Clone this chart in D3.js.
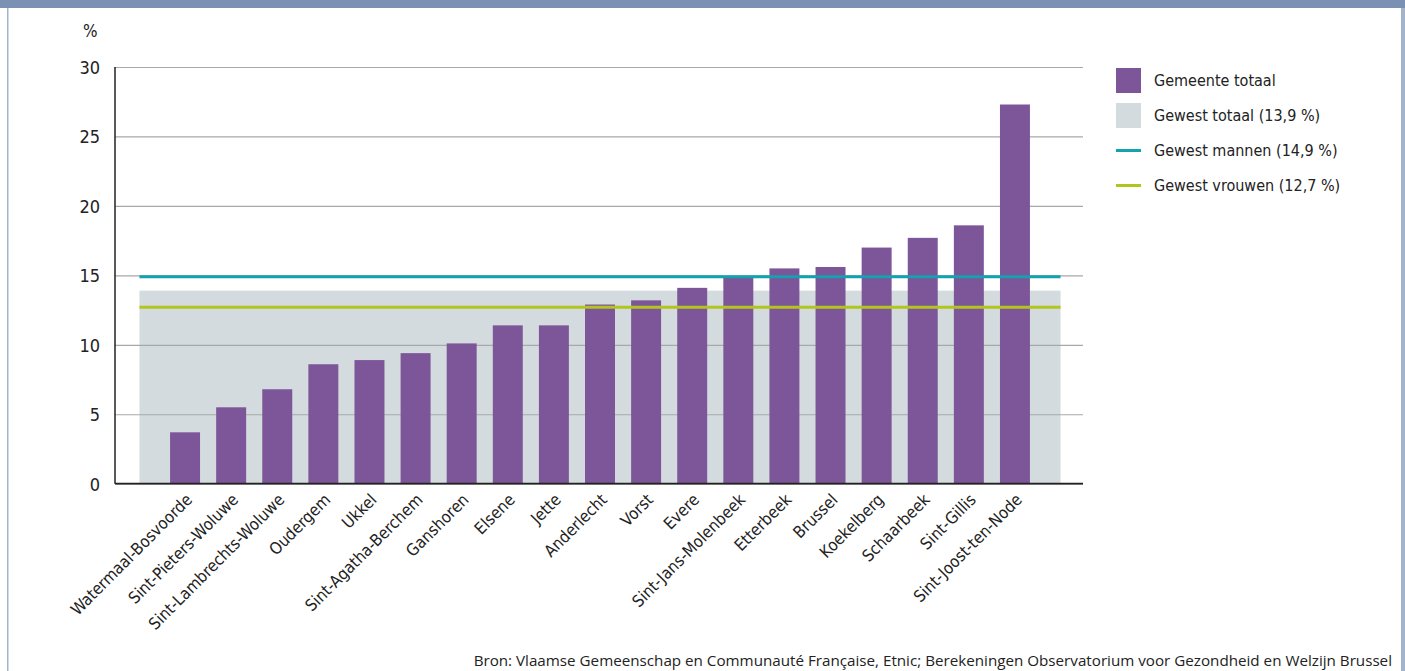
<!DOCTYPE html>
<html>
<head>
<meta charset="utf-8">
<script src="https://cdn.jsdelivr.net/npm/d3@7/dist/d3.min.js"></script>
<style>
  html, body { margin: 0; padding: 0; background: #fff; }
  svg { display: block; }
  .cond { font-family: "Liberation Sans Narrow", "DejaVu Sans Condensed", "Roboto", sans-serif; font-stretch: condensed; fill: #222; }
</style>
</head>
<body>
<svg id="chart" width="1405" height="671"></svg>
<script>
const categories = ["Watermaal-Bosvoorde","Sint-Pieters-Woluwe","Sint-Lambrechts-Woluwe","Oudergem","Ukkel","Sint-Agatha-Berchem","Ganshoren","Elsene","Jette","Anderlecht","Vorst","Evere","Sint-Jans-Molenbeek","Etterbeek","Brussel","Koekelberg","Schaarbeek","Sint-Gillis","Sint-Joost-ten-Node"];
const gemeenteTotaal = [3.7,5.5,6.8,8.6,8.9,9.4,10.1,11.4,11.4,12.9,13.2,14.1,14.9,15.5,15.6,17.0,17.7,18.6,27.3];
const gewestTotaal = 13.9;
const gewestMannen = 14.9;
const gewestVrouwen = 12.7;
const yTicks = [0,5,10,15,20,25,30];
const legendLabels = ["Gemeente totaal","Gewest totaal (13,9 %)","Gewest mannen (14,9 %)","Gewest vrouwen (12,7 %)"];
const sourceText = "Bron: Vlaamse Gemeenschap en Communauté Française, Etnic; Berekeningen Observatorium voor Gezondheid en Welzijn Brussel";

const C = { bar: "#7d5599", region: "#d4dbdf", men: "#12a2b0", women: "#b2c51d", grid: "#a8a8a8", frame: "#7b91b3", side: "#a3b3cb" };

const svg = d3.select("#chart");
const W = 1405, H = 671;

// frame
svg.append("rect").attr("x",0).attr("y",0).attr("width",W).attr("height",8).attr("fill",C.frame);
svg.append("rect").attr("x",7).attr("y",8).attr("width",1.5).attr("height",H-8).attr("fill",C.side);
svg.append("rect").attr("x",1401).attr("y",8).attr("width",4).attr("height",H-8).attr("fill",C.side);

const axisX0 = 115, gridX1 = 1083;
const y = d3.scaleLinear().domain([0,30]).range([483.7, 67]);
const x = d3.scaleBand().domain(categories).range([162, 1038]).paddingInner(0.35).paddingOuter(0.175);
const regL = x.range()[0] - x.step()/2 + 0.5, regR = x.range()[1] + x.step()/2 - 0.5;

// region background
svg.append("rect").attr("x",regL).attr("y",y(gewestTotaal)).attr("width",regR-regL).attr("height",y(0)-y(gewestTotaal)).attr("fill",C.region);

// gridlines
const yAxis = d3.axisLeft(y).tickValues(yTicks).tickSize(-(gridX1-axisX0)).tickFormat(d3.format("d")).tickPadding(15);
const gy = svg.append("g").attr("transform",`translate(${axisX0},0)`).call(yAxis);
gy.select(".domain").remove();
gy.selectAll(".tick line").attr("stroke",C.grid).attr("stroke-width",1.2);
gy.selectAll(".tick text").attr("class","cond").attr("font-size",18).attr("fill","#222").attr("dy","0.35em");

// bars
svg.append("g").selectAll("rect").data(gemeenteTotaal).join("rect")
  .attr("x",(d,i)=>x(categories[i])).attr("width",x.bandwidth())
  .attr("y",d=>y(d)).attr("height",d=>y(0)-y(d)).attr("fill",C.bar);

// reference lines
svg.append("line").attr("x1",regL).attr("x2",regR).attr("y1",y(gewestMannen)).attr("y2",y(gewestMannen)).attr("stroke",C.men).attr("stroke-width",3);
svg.append("line").attr("x1",regL).attr("x2",regR).attr("y1",y(gewestVrouwen)).attr("y2",y(gewestVrouwen)).attr("stroke",C.women).attr("stroke-width",3);

// axes lines
svg.append("line").attr("x1",axisX0).attr("x2",axisX0).attr("y1",y(30)).attr("y2",y(0)).attr("stroke","#222").attr("stroke-width",1.5);
svg.append("line").attr("x1",axisX0).attr("x2",gridX1).attr("y1",y(0)).attr("y2",y(0)).attr("stroke","#222").attr("stroke-width",1.8);

// category labels
svg.append("g").selectAll("text").data(categories).join("text")
  .attr("class","cond").attr("font-size",16.5).attr("text-anchor","end")
  .attr("transform",d=>`translate(${x(d)+x.bandwidth()/2+4},${y(0)+13}) rotate(-45)`)
  .attr("dy","0.35em").text(d=>d);

// % label
svg.append("text").attr("class","cond").attr("x",83).attr("y",37).attr("font-size",17).text("%");

// legend
const lg = svg.append("g").attr("transform","translate(1116,68)");
const rowH = 35;
legendLabels.forEach((t,i)=>{
  const gy0 = i*rowH;
  if (i===0) lg.append("rect").attr("x",0).attr("y",gy0).attr("width",25).attr("height",25).attr("fill",C.bar);
  else if (i===1) lg.append("rect").attr("x",0).attr("y",gy0).attr("width",25).attr("height",25).attr("fill",C.region);
  else lg.append("line").attr("x1",0).attr("x2",25).attr("y1",gy0+12.5).attr("y2",gy0+12.5).attr("stroke", i===2?C.men:C.women).attr("stroke-width",3);
  lg.append("text").attr("class","cond").attr("x",38).attr("y",gy0+12.5).attr("dy","0.35em").attr("font-size",16).text(t);
});

// source
svg.append("text").attr("x",1392).attr("y",666).attr("text-anchor","end")
  .attr("font-family","'Open Sans', 'Noto Sans', sans-serif").attr("font-size",15.2).attr("fill","#222").text(sourceText);
</script>
</body>
</html>
